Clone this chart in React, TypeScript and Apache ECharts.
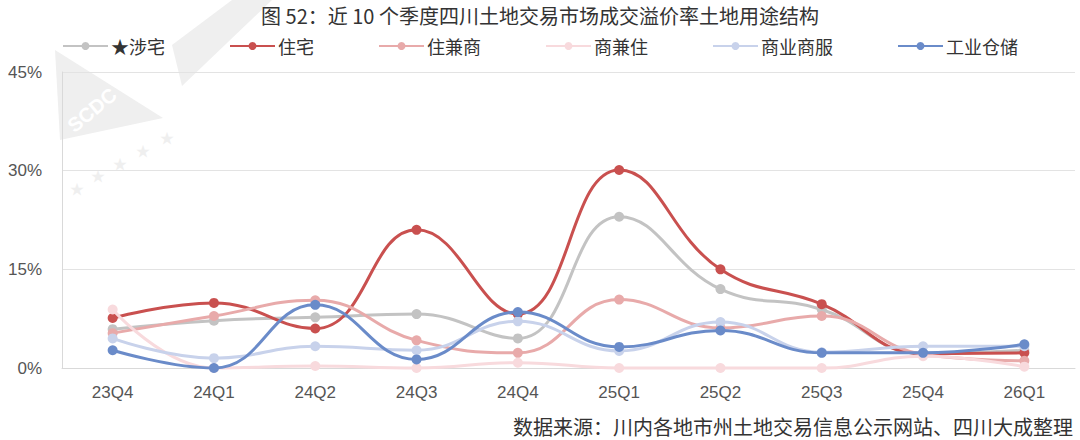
import React, { useEffect, useRef } from "react";
import * as echarts from "echarts";

const categories = ["23Q4", "24Q1", "24Q2", "24Q3", "24Q4", "25Q1", "25Q2", "25Q3", "25Q4", "26Q1"];
const seriesNames = ["★涉宅", "住宅", "住兼商", "商兼住", "商业商服", "工业仓储"];
const sheZhai = [5.9, 7.2, 7.7, 8.2, 4.5, 23.0, 12.0, 8.9, 2.2, 2.7];
const zhuZhai = [7.6, 9.9, 6.0, 21.0, 8.2, 30.1, 15.0, 9.7, 2.2, 2.3];
const zhuJianShang = [5.3, 7.9, 10.3, 4.2, 2.3, 10.4, 6.1, 7.9, 2.1, 1.1];
const shangJianZhu = [8.9, 0.0, 0.3, 0.0, 0.8, 0.0, 0.0, 0.0, 1.8, 0.2];
const shangYe = [4.5, 1.5, 3.3, 2.7, 7.1, 2.6, 7.0, 2.4, 3.3, 3.3];
const gongYe = [2.7, 0.0, 9.6, 1.3, 8.5, 3.2, 5.7, 2.3, 2.3, 3.6];
const yTicks = [0, 15, 30, 45];

const colors = ["#C3C3C3", "#C9504F", "#E8AAAA", "#F8DADD", "#C8D2EB", "#6A8BC9"];
const allData = [sheZhai, zhuZhai, zhuJianShang, shangJianZhu, shangYe, gongYe];

const CJK = '"Noto Sans CJK SC", "Noto Sans", sans-serif';
const LAT = 'Arial, "Liberation Sans", "Noto Sans CJK SC", sans-serif';

export default function App() {
  const ref = useRef<HTMLDivElement>(null);
  useEffect(() => {
    if (!ref.current) return;
    const chart = echarts.init(ref.current, null, { renderer: "svg" });
    const wm = "#EFEFEF";
    const stars = [
      [77, 188],
      [98, 175],
      [120, 163],
      [143, 150],
      [167, 137],
    ];
    chart.setOption({
      animation: false,
      backgroundColor: "#fff",
      title: {
        text: "图 52：近 10 个季度四川土地交易市场成交溢价率土地用途结构",
        left: "center",
        top: 0,
        textStyle: { fontFamily: CJK, fontSize: 20, fontWeight: "normal", color: "#333" },
      },
      graphic: [
        {
          type: "polygon",
          z: -10,
          shape: {
            points: [
              [55, 50],
              [163, 118],
              [60, 140],
            ],
          },
          style: { fill: wm },
        },
        {
          type: "polygon",
          z: -10,
          shape: {
            points: [
              [172, 45],
              [232, 0],
              [272, 0],
              [182, 86],
            ],
          },
          style: { fill: wm },
        },
        {
          type: "text",
          z: -9,
          x: 92,
          y: 110,
          rotation: (40 * Math.PI) / 180,
          style: { text: "SCDC", fill: "#fff", fontSize: 20, fontWeight: "bold", fontFamily: LAT, align: "center", verticalAlign: "middle" },
        },
        ...stars.map((s) => ({
          type: "text",
          z: -9,
          x: s[0],
          y: s[1],
          style: { text: "★", fill: wm, fontSize: 14, align: "center", verticalAlign: "middle", fontFamily: CJK },
        })),
        {
          type: "text",
          right: 7,
          bottom: 4,
          style: {
            text: "数据来源：川内各地市州土地交易信息公示网站、四川大成整理",
            fill: "#333",
            fontSize: 20,
            fontFamily: CJK,
          },
        },
      ],
      legend: {
        top: 32,
        left: "center",
        itemGap: 64,
        itemWidth: 45,
        itemHeight: 10,
        textStyle: { fontFamily: CJK, fontSize: 18, color: "#333", padding: [0, 0, 0, -2] },
        data: seriesNames,
      },
      grid: { left: 62, right: 5, top: 72, bottom: 72 },
      xAxis: {
        type: "category",
        data: categories,
        boundaryGap: true,
        axisLine: { lineStyle: { color: "#D9D9D9", width: 1 } },
        axisTick: { show: false },
        axisLabel: { fontFamily: LAT, fontSize: 17, color: "#555", margin: 16 },
      },
      yAxis: {
        type: "value",
        min: yTicks[0],
        max: yTicks[yTicks.length - 1],
        interval: 15,
        axisLine: { show: true, lineStyle: { color: "#D9D9D9", width: 1 } },
        axisTick: { show: false },
        splitLine: { lineStyle: { color: "#E3E3E3", width: 1 } },
        axisLabel: { fontFamily: LAT, fontSize: 17, color: "#555", margin: 20, formatter: "{value}%" },
      },
      series: seriesNames.map((name, i) => ({
        name,
        type: "line",
        data: allData[i],
        smooth: 0.45,
        symbol: "circle",
        symbolSize: 10,
        clip: false,
        lineStyle: { width: 3, color: colors[i] },
        itemStyle: { color: colors[i] },
        z: 2 + i,
      })),
    });
    return () => chart.dispose();
  }, []);
  return <div ref={ref} style={{ position: "fixed", left: 0, top: 0, width: 1080, height: 440 }} />;
}
